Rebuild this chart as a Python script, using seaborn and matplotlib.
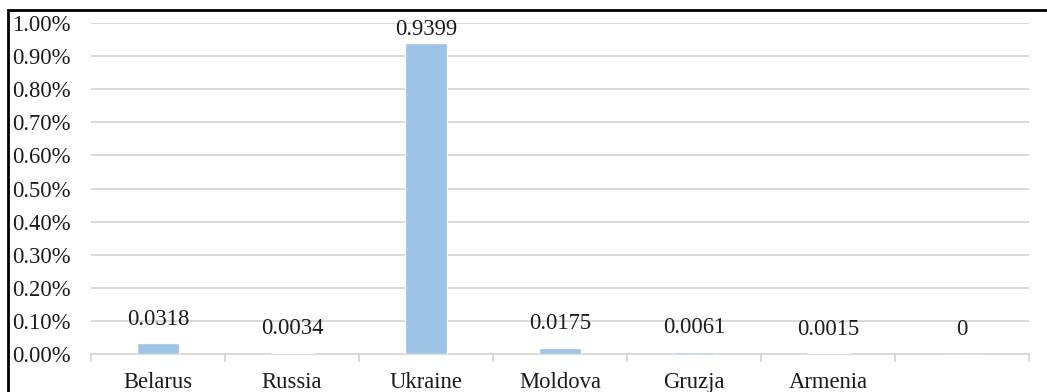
import matplotlib
matplotlib.use("Agg")
import matplotlib.pyplot as plt
from matplotlib.patches import Rectangle
from matplotlib.ticker import FixedLocator, FuncFormatter
import seaborn as sns
import pandas as pd

# Share of each country (values in percent)
countries = ["Belarus", "Russia", "Ukraine", "Moldova", "Gruzja", "Armenia", ""]
shares = [0.0318, 0.0034, 0.9399, 0.0175, 0.0061, 0.0015, 0]
value_labels = ["0.0318", "0.0034", "0.9399", "0.0175", "0.0061", "0.0015", "0"]

sns.set_theme(style="white")
plt.rcParams["font.family"] = ["Liberation Serif", "DejaVu Serif"]

FS = 16.3
TXT = "#1a1a1a"
GRID = "#d9d9d9"

df = pd.DataFrame({"country": countries, "share": shares})

fig = plt.figure(figsize=(10.47, 3.92), dpi=100)
ax = fig.add_axes([0.0869, 0.097, 0.896, 0.844])

sns.barplot(data=df, x="country", y="share", order=countries,
            color="#9dc3e6", saturation=1, width=0.31, ax=ax, zorder=3)

ax.set_ylim(0, 1.0)
ax.set_xlim(-0.5, len(countries) - 0.5)
ax.set_yticks([i / 10 for i in range(11)])
ax.yaxis.set_major_formatter(FuncFormatter(lambda v, p: f"{v:.2f}%"))
ax.grid(axis="y", color=GRID, linewidth=1.4, zorder=0)
ax.set_axisbelow(True)
for s in ["left", "right", "top"]:
    ax.spines[s].set_visible(False)
ax.spines["bottom"].set_color(GRID)
ax.spines["bottom"].set_linewidth(1.4)

ax.set_xlabel("")
ax.set_ylabel("")

# Category separators on the baseline
ax.xaxis.set_minor_locator(FixedLocator([i - 0.5 for i in range(len(countries) + 1)]))
ax.tick_params(axis="x", which="major", length=0, pad=13, labelsize=FS, colors=TXT)
ax.tick_params(axis="x", which="minor", length=6, width=1.4, color=GRID, bottom=True)
ax.tick_params(axis="y", length=0, pad=57, labelsize=FS, colors=TXT)
for lab in ax.get_yticklabels():
    lab.set_horizontalalignment("left")

# Value labels above each bar, kept inside the plot area
for i, (v, t) in enumerate(zip(shares, value_labels)):
    y = min(v + 0.057, 0.964)
    ax.text(i, y, t, ha="center", va="baseline", fontsize=FS, color=TXT, zorder=4)

# Outer frame
fig.patches.append(Rectangle((7.5 / 1047, -0.5), 1.5, 1.5 - 9.5 / 392,
                             transform=fig.transFigure, fill=False,
                             edgecolor="black", linewidth=2))

fig.savefig("out.png", dpi=100)
